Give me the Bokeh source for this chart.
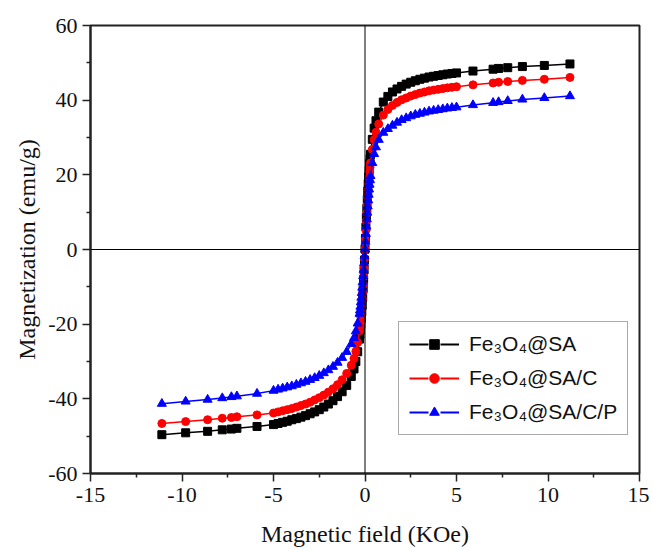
from bokeh.plotting import figure
from bokeh.models import (Range1d, FixedTicker, Span, Legend, LegendItem, ColumnDataSource)
from bokeh.embed import file_html
from bokeh.resources import INLINE

# Magnetic field (KOe)
H = [-11.1, -9.8, -8.6, -7.8, -7.3, -7.0, -5.9,
     -5.0, -4.75, -4.5, -4.25, -4.0, -3.75, -3.5, -3.25, -3.0, -2.75, -2.5, -2.25,
     -2.0, -1.75, -1.5, -1.25, -1.0, -0.75, -0.6, -0.5, -0.4,
     -0.3, -0.275, -0.25, -0.225, -0.2, -0.175, -0.15, -0.125, -0.1, -0.075, -0.05, -0.025,
     0.0,
     0.025, 0.05, 0.075, 0.1, 0.125, 0.15, 0.175, 0.2, 0.225, 0.25, 0.275, 0.3,
     0.4, 0.5, 0.6, 0.75, 1.0, 1.25, 1.5, 1.75, 2.0, 2.25, 2.5, 2.75, 3.0, 3.25,
     3.5, 3.75, 4.0, 4.25, 4.5, 4.75, 5.0,
     5.9, 7.0, 7.3, 7.8, 8.6, 9.8, 11.2]

# Magnetization (emu/g)
M_SA = [-49.6, -49.1, -48.7, -48.3, -48.1, -47.9, -47.4,
        -46.9, -46.6, -46.3, -46.0, -45.6, -45.3, -44.9, -44.5, -44.0, -43.5, -42.9, -42.2,
        -41.4, -40.5, -39.4, -38.1, -36.4, -34.0, -32.0, -30.0, -27.4,
        -24.0, -22.8, -21.5, -20.0, -18.4, -16.7, -14.9, -12.8, -10.5, -8.0, -5.5, -2.8,
        0.1,
        3.0, 6.0, 8.6, 11.0, 13.4, 15.6, 17.6, 19.5, 21.2, 23.0, 24.3, 25.5,
        29.5, 32.5, 34.5, 36.8, 39.5, 41.0, 42.2, 43.0, 43.7, 44.3, 44.8, 45.2, 45.6, 45.9,
        46.2, 46.4, 46.6, 46.8, 47.0, 47.15, 47.3,
        47.8, 48.3, 48.5, 48.7, 49.0, 49.3, 49.7]

M_SAC = [-46.6, -46.1, -45.6, -45.2, -45.0, -44.8, -44.3,
         -43.8, -43.5, -43.2, -42.9, -42.6, -42.2, -41.8, -41.4, -40.9, -40.3, -39.7, -39.0,
         -38.2, -37.3, -36.2, -34.9, -33.2, -31.0, -29.2, -27.3, -24.9,
         -21.8, -20.7, -19.5, -18.1, -16.6, -15.0, -13.3, -11.5, -9.5, -7.3, -4.9, -2.5,
         0.1,
         2.6, 5.2, 7.6, 9.8, 12.0, 14.0, 15.9, 17.6, 19.2, 20.7, 22.0, 23.2,
         26.8, 29.4, 31.4, 33.6, 36.0, 37.5, 38.6, 39.4, 40.1, 40.6, 41.1, 41.5, 41.9, 42.2,
         42.5, 42.7, 42.9, 43.1, 43.3, 43.45, 43.6,
         44.1, 44.6, 44.8, 45.0, 45.3, 45.6, 46.1]

M_SACP = [-41.3, -40.7, -40.2, -39.8, -39.5, -39.3, -38.6,
          -37.8, -37.5, -37.2, -36.9, -36.6, -36.2, -35.8, -35.4, -34.9, -34.4, -33.8, -33.1,
          -32.3, -31.4, -30.3, -29.0, -27.4, -25.3, -23.7, -21.9, -19.8,
          -17.2, -16.3, -15.3, -14.1, -12.9, -11.6, -10.2, -8.7, -7.1, -5.4, -3.6, -1.8,
          0.1,
          2.1, 4.2, 6.2, 8.1, 9.9, 11.6, 13.2, 14.7, 16.1, 17.4, 18.6, 19.7,
          23.2, 25.6, 27.4, 29.4, 31.3, 32.3, 33.2, 34.0, 34.7, 35.2, 35.7, 36.1, 36.4, 36.7,
          37.0, 37.2, 37.4, 37.6, 37.8, 37.95, 38.1,
          38.7, 39.3, 39.5, 39.8, 40.2, 40.6, 41.1]

labels = ["Fe\u2083O\u2084@SA", "Fe\u2083O\u2084@SA/C", "Fe\u2083O\u2084@SA/C/P"]
colors = ["#000000", "#ff0000", "#0000ff"]
markers = ["square", "circle", "triangle"]
msizes = [8, 8, 9]
series = [M_SA, M_SAC, M_SACP]

x_major = [-15, -10, -5, 0, 5, 10, 15]
x_minor = [-12.5, -7.5, -2.5, 2.5, 7.5, 12.5]
y_major = [-60, -40, -20, 0, 20, 40, 60]
y_minor = [-50, -30, -10, 10, 30, 50]

p = figure(width=649, height=549, output_backend="svg", toolbar_location=None,
           x_range=Range1d(-15, 15), y_range=Range1d(-60, 60))
p.min_border_left = 90
p.min_border_right = 10
p.min_border_top = 25
p.min_border_bottom = 76
p.background_fill_color = "white"
p.border_fill_color = "white"
p.outline_line_color = "#222222"
p.outline_line_width = 2
p.xgrid.visible = False
p.ygrid.visible = False

p.xaxis.ticker = FixedTicker(ticks=x_major, minor_ticks=x_minor)
p.yaxis.ticker = FixedTicker(ticks=y_major, minor_ticks=y_minor)
p.xaxis.major_label_overrides = {v: str(v) for v in x_major}
p.yaxis.major_label_overrides = {v: str(v) for v in y_major}
for ax in (p.xaxis, p.yaxis):
    ax.axis_line_width = 2
    ax.axis_line_color = "#222222"
    ax.major_tick_line_color = "#222222"
    ax.minor_tick_line_color = "#222222"
    ax.major_tick_line_width = 1.5
    ax.minor_tick_line_width = 1.5
    ax.major_tick_in = 0
    ax.major_tick_out = 8
    ax.minor_tick_in = 0
    ax.minor_tick_out = 4
    ax.major_label_text_font = "Liberation Serif"
    ax.major_label_text_font_size = "22px"
    ax.major_label_text_color = "#111111"
    ax.axis_label_text_font = "Liberation Serif"
    ax.axis_label_text_font_size = "24px"
    ax.axis_label_text_font_style = "normal"
    ax.axis_label_text_color = "#111111"
p.xaxis.axis_label = "Magnetic field (KOe)"
p.yaxis.axis_label = "Magnetization (emu/g)"
p.xaxis.major_label_standoff = 6
p.yaxis.major_label_standoff = 5
p.xaxis.axis_label_standoff = 16
p.yaxis.axis_label_standoff = 5

p.add_layout(Span(location=0, dimension="height", line_color="black", line_width=1))
p.add_layout(Span(location=0, dimension="width", line_color="black", line_width=1))

items = []
for lab, col, mk, ms, M in zip(labels, colors, markers, msizes, series):
    src = ColumnDataSource(dict(x=H, y=M))
    p.line("x", "y", source=src, line_color=col, line_width=1.5)
    proxy = p.line("x", "y", source=src, line_color=col, line_width=2,
                   line_dash="19 12", visible=False)
    sr = p.scatter("x", "y", source=src, marker=mk, size=ms, fill_color=col, line_color=col)
    items.append(LegendItem(label=lab, renderers=[proxy, sr]))

legend = Legend(items=items, location=(308, 38),
                label_text_font="Liberation Sans", label_text_font_size="21px",
                label_text_color="#111111",
                glyph_width=50, glyph_height=24, label_height=24, spacing=10,
                padding=10, margin=0, label_standoff=10,
                border_line_color="#555555", border_line_width=1,
                background_fill_color="white", background_fill_alpha=1.0)
p.add_layout(legend, "center")

open("out.html", "w").write(file_html(p, INLINE))
